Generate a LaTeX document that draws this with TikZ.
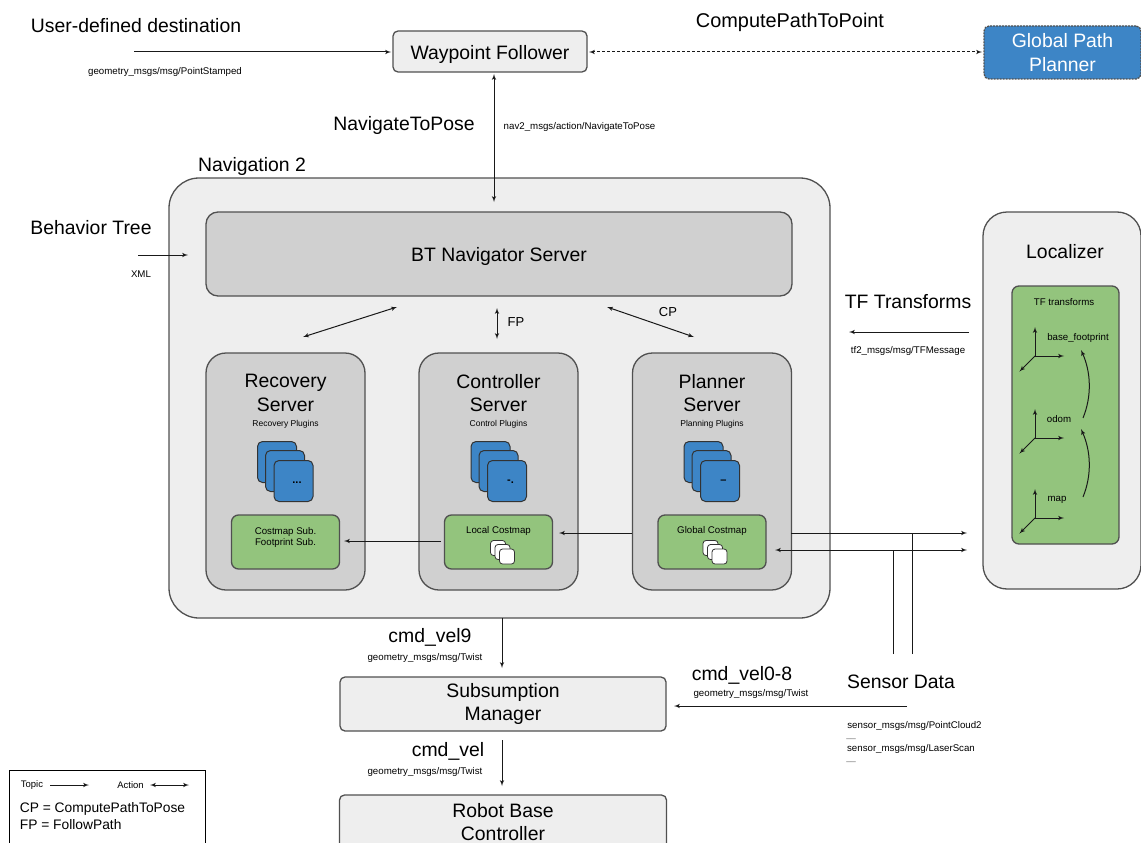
\documentclass[tikz,border=0pt]{standalone}
\usepackage{fontspec}
\setmainfont{Liberation Sans}
\usetikzlibrary{shapes,arrows,positioning,calc}
\definecolor{boxgray}{HTML}{D0D0D0}
\definecolor{boxlight}{HTML}{EEEEEE}
\definecolor{boxgreen}{HTML}{93C47D}
\definecolor{boxblue}{HTML}{3D85C6}
\definecolor{boxline}{HTML}{505050}
\tikzset{
block/.style = {draw=boxline, line width=1.3pt, fill=boxlight, rectangle, rounded corners=5pt, align=center, font=\fontsize{19.4}{23.5}\selectfont},
oneline/.style = {execute at begin node=\rule{0pt}{20pt}},
panel/.style = {block, fill=boxgray, rounded corners=20pt, minimum width=159pt, minimum height=237pt},
costmap/.style = {block, fill=boxgreen, rounded corners=7pt, minimum width=108pt, minimum height=54pt, font=\fontsize{9.8}{12}\selectfont},
card/.style = {draw=black!80, line width=1pt, fill=boxblue, rectangle, rounded corners=5pt, minimum width=39pt, minimum height=41pt, font=\bfseries\fontsize{11}{12}\selectfont},
tiny/.style = {draw=black!80, line width=.8pt, fill=white, rectangle, rounded corners=3pt, minimum width=15pt, minimum height=15pt},
big/.style = {align=center, inner sep=0pt, font=\fontsize{19.4}{23.5}\selectfont},
small/.style = {align=center, inner sep=0pt, font=\fontsize{9.7}{11}\selectfont},
plugin/.style = {small, font=\fontsize{8.5}{11}\selectfont},
underbar/.style = {small, font=\bfseries\fontsize{8.5}{9}\selectfont},
tmp/.style = {coordinate},
frame/.style = {black!90, line width=1pt}
}

\begin{document}
\begin{tikzpicture}[auto, x=1pt, y=-1pt, >=latex']
  \path [use as bounding box, clip] (0,0) rectangle (1141,843);

  % boxes
  \node [block, oneline, minimum width=194pt, minimum height=41pt] at (490,51.5) (waypoint) {Waypoint Follower};
  \node [block, right of=waypoint, node distance=572.5pt, yshift=-1pt, dash pattern=on 2pt off 1pt, fill=boxblue, text=white, minimum width=157pt, minimum height=53pt] (globalplanner) {Global Path\\Planner};
  \node [block, below of=waypoint, node distance=346.5pt, xshift=9.5pt, rounded corners=30pt, minimum width=661pt, minimum height=440pt] (nav) {};
  \node [block, oneline, below of=waypoint, node distance=202.5pt, xshift=9pt, fill=boxgray, rounded corners=12pt, minimum width=586pt, minimum height=84pt] (btnav) {BT Navigator Server};
  \node [panel, below of=btnav, node distance=217.5pt, xshift=-213.5pt] (recovery) {};
  \node [panel, right of=recovery, node distance=213pt] (controller) {};
  \node [panel, right of=controller, node distance=213.5pt] (planner) {};
  \node [block, right of=planner, node distance=350pt, rounded corners=24pt, minimum width=158pt, minimum height=377pt, yshift=71pt] (localizer) {};
  \node [block, below of=waypoint, node distance=652.5pt, xshift=13pt, minimum width=326pt, minimum height=54pt] (subsumption) {Subsumption\\Manager};
  \node [block, below of=subsumption, node distance=118pt, minimum width=327pt, minimum height=54pt] (robotbase) {Robot Base\\Controller};
  \node [rectangle, draw=black, line width=.9pt, fill=white, minimum width=196pt, minimum height=110pt] at (107,825) (legend) {};

  % servers
  \node [big, above of=recovery, node distance=78.5pt] (recoverytitle) {Recovery\\Server};
  \node [big, above of=controller, node distance=78.5pt] (controllertitle) {Controller\\Server};
  \node [big, above of=planner, node distance=78.5pt] (plannertitle) {Planner\\Server};
  \node [plugin, above of=recovery, node distance=47.5pt] (recoveryplugins) {Recovery Plugins};
  \node [plugin, above of=controller, node distance=47.5pt] (controllerplugins) {Control Plugins};
  \node [plugin, above of=planner, node distance=47.5pt] (plannerplugins) {Planning Plugins};

  \node [card, left of=recovery, node distance=8.5pt, yshift=9.5pt] (recoverya) {};
  \node [card, right of=recoverya, node distance=8pt, yshift=-9pt] (recoveryb) {};
  \node [card, right of=recoveryb, node distance=8.5pt, yshift=-10pt] (recoveryc) {\hspace{7pt}\raisebox{-5pt}{...}};
  \node [card, left of=controller, node distance=8pt, yshift=9.5pt] (controllera) {};
  \node [card, right of=controllera, node distance=8pt, yshift=-9pt] (controllerb) {};
  \node [card, right of=controllerb, node distance=8.5pt, yshift=-10pt] (controllerc) {\hspace{7pt}\raisebox{-5pt}{-.}};
  \node [card, left of=planner, node distance=8.5pt, yshift=9.5pt] (plannera) {};
  \node [card, right of=plannera, node distance=8pt, yshift=-9pt] (plannerb) {};
  \node [card, right of=plannerb, node distance=8.5pt, yshift=-10pt] (plannerc) {\hspace{7pt}\raisebox{-5pt}{--}};

  \node [costmap, below of=recovery, node distance=70.5pt] (recoverymap) {};
  \node [small, below of=recovery, node distance=66pt] (recoverymaplabel) {Costmap Sub.\\Footprint Sub.};
  \node [costmap, below of=controller, node distance=70.5pt] (localmap) {};
  \node [costmap, below of=planner, node distance=70.5pt] (globalmap) {};
  \node [small, above of=localmap, node distance=11pt] (localmaplabel) {Local Costmap};
  \node [small, above of=globalmap, node distance=11pt] (globalmaplabel) {Global Costmap};
  \node [tiny, below of=localmap, node distance=6pt, xshift=-.5pt] (localtinya) {};
  \node [tiny, right of=localtinya, node distance=4.5pt, yshift=-4pt] (localtinyb) {};
  \node [tiny, right of=localtinyb, node distance=4.5pt, yshift=-4.5pt] (localtinyc) {};
  \node [tiny, below of=globalmap, node distance=6pt, xshift=-1.5pt] (globaltinya) {};
  \node [tiny, right of=globaltinya, node distance=4.5pt, yshift=-4pt] (globaltinyb) {};
  \node [tiny, right of=globaltinyb, node distance=4.5pt, yshift=-4.5pt] (globaltinyc) {};

  % localizer
  \node [big, above of=localizer, node distance=148.5pt, xshift=3pt] (localizertitle) {Localizer};
  \node [costmap, below of=localizer, node distance=14.5pt, xshift=3.5pt, minimum width=107pt, minimum height=258pt] (tfbox) {};
  \node [small, above of=tfbox, node distance=113pt, xshift=-1.5pt] (tflabel) {TF transforms};
  \node [small] at (1078,338) (footprintlabel) {base\_footprint};
  \node [small] at (1059,419) (odomlabel) {odom};
  \node [small] at (1057,500) (maplabel) {map};
  \node [tmp] at (1035,356) (footprint) {};
  \node [tmp, above of=footprint, node distance=29pt] (footprintz) {};
  \node [tmp, right of=footprint, node distance=29pt] (footprintx) {};
  \node [tmp, below left of=footprint, node distance=22pt] (footprinty) {};
  \node [tmp] at (1035,438) (odom) {};
  \node [tmp, above of=odom, node distance=29pt] (odomz) {};
  \node [tmp, right of=odom, node distance=29pt] (odomx) {};
  \node [tmp, below left of=odom, node distance=22pt] (odomy) {};
  \node [tmp] at (1035,518) (map) {};
  \node [tmp, above of=map, node distance=29pt] (mapz) {};
  \node [tmp, right of=map, node distance=29pt] (mapx) {};
  \node [tmp, below left of=map, node distance=22pt] (mapy) {};
  \node [tmp] at (1083,418) (odomout) {};
  \node [tmp] at (1081,350) (footprintin) {};
  \node [tmp] at (1083,497) (mapout) {};
  \node [tmp] at (1081,429) (odomin) {};

  % free labels
  \node [big] at (136,26) (userlabel) {User-defined destination};
  \node [small] at (165,72) (usermsg) {geometry\_msgs/msg/PointStamped};
  \node [big, font=\fontsize{19.9}{24}\selectfont] at (790,22.5) (computelabel) {ComputePathToPoint};
  \node [big] at (404,125.5) (navigatelabel) {NavigateToPose};
  \node [small] at (579.5,127) (navigatemsg) {nav2\_msgs/action/NavigateToPose};
  \node [big] at (252,166.5) (navlabel) {Navigation 2};
  \node [big] at (91,228) (treelabel) {Behavior Tree};
  \node [small] at (141,274) (xmllabel) {XML};
  \node [small, font=\fontsize{13}{14}\selectfont] at (516,322) (fplabel) {FP};
  \node [small, font=\fontsize{13}{14}\selectfont] at (668,312) (cplabel) {CP};
  \node [big] at (908,302) (tflabelb) {TF Transforms};
  \node [small] at (908,351) (tfmsg) {tf2\_msgs/msg/TFMessage};
  \node [big] at (430,637) (velninelabel) {cmd\_vel9};
  \node [small] at (425,658) (velninemsg) {geometry\_msgs/msg/Twist};
  \node [big] at (448,751) (vellabel) {cmd\_vel};
  \node [small] at (425,772) (velmsg) {geometry\_msgs/msg/Twist};
  \node [big] at (742,675) (velsomelabel) {cmd\_vel0-8};
  \node [small] at (751,694) (velsomemsg) {geometry\_msgs/msg/Twist};
  \node [big] at (901,681.5) (sensorlabel) {Sensor Data};
  \node [small] at (914.5,726) (cloudmsg) {sensor\_msgs/msg/PointCloud2};
  \node [underbar] at (851,739) (clouddash) {\_\_};
  \node [small] at (911,749) (scanmsg) {sensor\_msgs/msg/LaserScan};
  \node [underbar] at (851,762) (scandash) {\_\_};
  \node [plugin, font=\fontsize{9.5}{11}\selectfont] at (32,785) (topiclabel) {Topic};
  \node [plugin, font=\fontsize{9.5}{11}\selectfont] at (130.5,785) (actionlabel) {Action};
  \node [big, align=left, font=\fontsize{13.8}{17}\selectfont] at (102.5,816.5) (legendtext) {CP = ComputePathToPose\\FP = FollowPath};

  % free ends
  \node [tmp] at (134,52) (userin) {};
  \node [tmp] at (391,52) (userend) {};
  \node [tmp] at (589,52) (computea) {};
  \node [tmp] at (982,52) (computeb) {};
  \node [tmp] at (494,74) (navigatea) {};
  \node [tmp] at (494,202) (navigateb) {};
  \node [tmp] at (138,255) (treein) {};
  \node [tmp] at (188,255) (treeend) {};
  \node [tmp] at (397,307) (cmdra) {};
  \node [tmp] at (303,337) (cmdrb) {};
  \node [tmp] at (497,308) (fpa) {};
  \node [tmp] at (497,339) (fpb) {};
  \node [tmp] at (607,307) (cpa) {};
  \node [tmp] at (694,337) (cpb) {};
  \node [tmp] at (969,332) (tfin) {};
  \node [tmp] at (849,332) (tfend) {};
  \node [tmp] at (632,533) (costa) {};
  \node [tmp] at (559,533) (costb) {};
  \node [tmp] at (441,541) (costc) {};
  \node [tmp] at (344,541) (costd) {};
  \node [tmp] at (791,533) (scana) {};
  \node [tmp] at (967,533) (scanb) {};
  \node [tmp] at (775,550) (scanc) {};
  \node [tmp] at (967,550) (scand) {};
  \node [tmp] at (912,533) (sensora) {};
  \node [tmp] at (912,654) (sensorb) {};
  \node [tmp] at (893,550) (sensorc) {};
  \node [tmp] at (893,654) (sensord) {};
  \node [tmp] at (502,618) (velninea) {};
  \node [tmp] at (502,668) (velnineb) {};
  \node [tmp] at (502,740) (vela) {};
  \node [tmp] at (502,786) (velb) {};
  \node [tmp] at (907,706) (velsomea) {};
  \node [tmp] at (674,706) (velsomeb) {};
  \node [tmp] at (50,785) (topica) {};
  \node [tmp] at (89,785) (topicb) {};
  \node [tmp] at (150,785) (actiona) {};
  \node [tmp] at (189,785) (actionb) {};

  % connectors
  \draw [->, frame] (userin) -- (userend);
  \draw [<->, frame, dash pattern=on 3pt off 2pt] (computea) -- (computeb);
  \draw [<->, frame] (navigatea) -- (navigateb);
  \draw [->, frame] (treein) -- (treeend);
  \draw [<->, frame] (cmdra) -- (cmdrb);
  \draw [<->, frame] (fpa) -- (fpb);
  \draw [<->, frame] (cpa) -- (cpb);
  \draw [->, frame] (tfin) -- (tfend);
  \draw [->, frame] (costa) -- (costb);
  \draw [->, frame] (costc) -- (costd);
  \draw [->, frame] (scana) -- (scanb);
  \draw [<->, frame] (scanc) -- (scand);
  \draw [frame] (sensorb) -- (sensora);
  \draw [frame] (sensord) -- (sensorc);
  \draw [->, frame] (velninea) -- (velnineb);
  \draw [->, frame] (vela) -- (velb);
  \draw [->, frame] (velsomea) -- (velsomeb);
  \draw [->, frame] (topica) -- (topicb);
  \draw [<->, frame] (actiona) -- (actionb);
  \draw [->, frame] (footprint) -- (footprintz);
  \draw [->, frame] (footprint) -- (footprintx);
  \draw [->, frame] (footprint) -- (footprinty);
  \draw [->, frame] (odom) -- (odomz);
  \draw [->, frame] (odom) -- (odomx);
  \draw [->, frame] (odom) -- (odomy);
  \draw [->, frame] (map) -- (mapz);
  \draw [->, frame] (map) -- (mapx);
  \draw [->, frame] (map) -- (mapy);
  \draw [->, frame] (odomout) .. controls (1092,396) and (1091,372) .. (footprintin);
  \draw [->, frame] (mapout) .. controls (1092,475) and (1091,451) .. (odomin);
\end{tikzpicture}
\end{document}
